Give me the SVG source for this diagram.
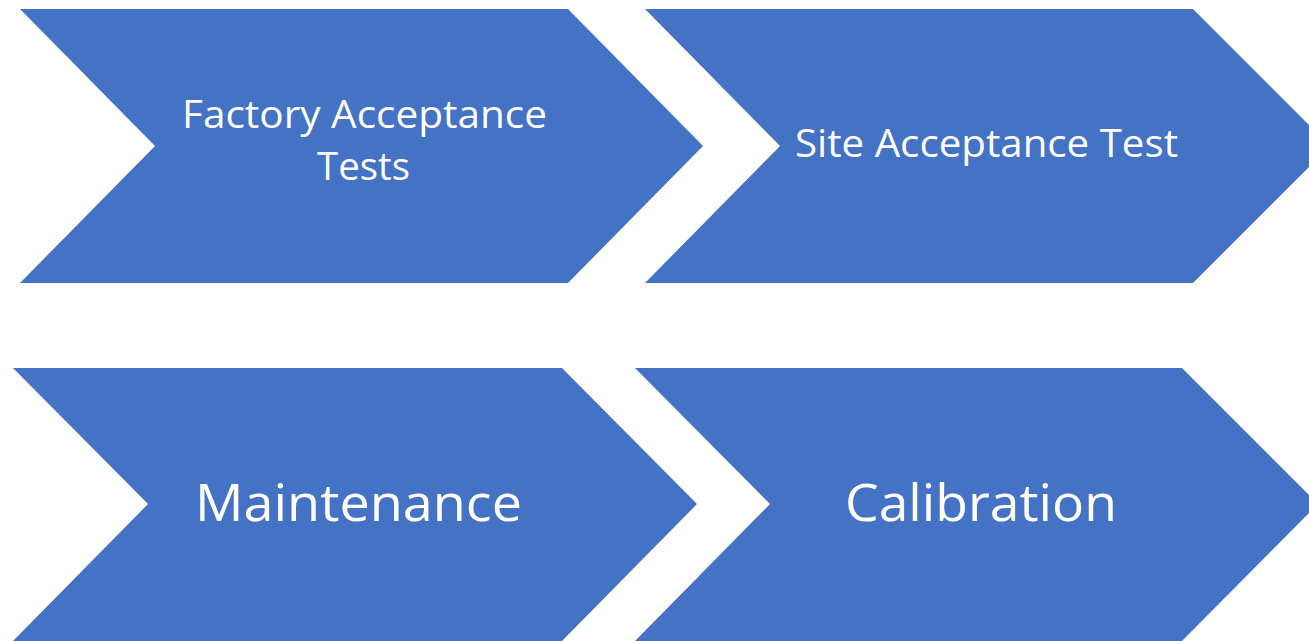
<svg xmlns="http://www.w3.org/2000/svg" width="1309" height="641" viewBox="0 0 1309 641">
<style>
.chev{fill:#4472C4;}
.lbl{fill:#FFFFFF;font-family:"Open Sans","Noto Sans","Liberation Sans",sans-serif;text-anchor:middle;}
.sm{font-size:38px;}
.lg{font-size:52px;}
</style>
<rect width="1309" height="641" fill="#FFFFFF"/>
<g id="connectors"></g>
<g id="node-fat">
<polygon class="chev" points="20,9 568,9 703,146 568,283 20,283 155,146"/>
<text class="lbl sm" x="364.5" y="128" textLength="365" lengthAdjust="spacingAndGlyphs">Factory Acceptance</text>
<text class="lbl sm" x="363.5" y="180" textLength="93" lengthAdjust="spacingAndGlyphs">Tests</text>
</g>
<g id="node-sat">
<polygon class="chev" points="645,9 1193,9 1330,146 1193,283 645,283 780,146"/>
<text class="lbl sm" x="986.5" y="157" textLength="383" lengthAdjust="spacingAndGlyphs">Site Acceptance Test</text>
</g>
<g id="node-maint">
<polygon class="chev" points="13,368 562,368 697,504 562,641 13,641 148,504"/>
<text class="lbl lg" x="358.5" y="521" textLength="327" lengthAdjust="spacingAndGlyphs">Maintenance</text>
</g>
<g id="node-cal">
<polygon class="chev" points="635,368 1182,368 1318,504 1182,641 635,641 770,504"/>
<text class="lbl lg" x="981" y="521" textLength="272" lengthAdjust="spacingAndGlyphs">Calibration</text>
</g>
</svg>
